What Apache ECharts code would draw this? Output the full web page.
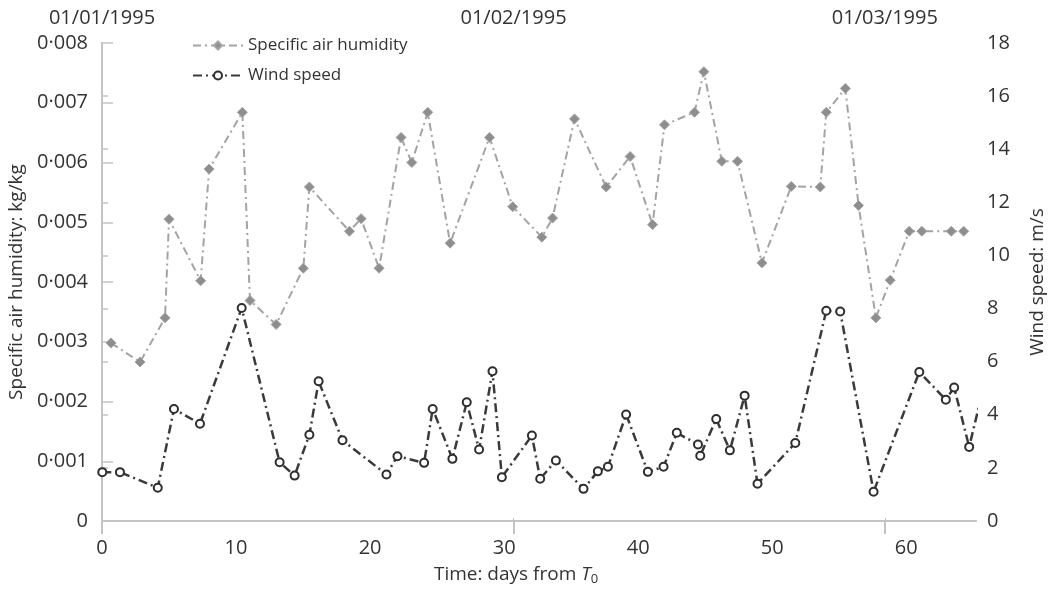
<!DOCTYPE html>
<html>
<head>
<meta charset="utf-8">
<script src="https://cdn.jsdelivr.net/npm/echarts@6/dist/echarts.min.js"></script>
<style>
  html, body { margin: 0; padding: 0; background: #fff; }
  #chart { width: 1048px; height: 589px; }
</style>
</head>
<body>
<div id="chart"></div>
<script>
// humidity, kg/kg (diamonds)
var humDays = [0.67, 2.84, 4.70, 5.0, 7.36, 7.99, 10.47, 11.04, 12.99, 15.02, 15.47, 18.46, 19.33, 20.67,
    22.31, 23.11, 24.30, 25.97, 28.91, 30.64, 32.81, 33.61, 35.25, 37.61, 39.40, 41.07, 41.96, 44.2,
    44.9, 46.24, 47.41, 49.23, 51.42, 53.58, 54.03, 55.45, 56.44, 57.73, 58.8, 60.22, 61.16, 63.36, 64.28];
var humVals = [0.00298, 0.00266, 0.00340, 0.00505, 0.00402, 0.00589, 0.00684, 0.00369, 0.00329, 0.00423,
    0.00559, 0.00485, 0.00506, 0.00423, 0.00642, 0.00600, 0.00684, 0.00465, 0.00642, 0.00526, 0.00475,
    0.00507, 0.00673, 0.00559, 0.00610, 0.00496, 0.00663, 0.00684, 0.00752, 0.00602, 0.00602, 0.00432,
    0.00560, 0.00559, 0.00684, 0.00724, 0.00528, 0.00340, 0.00403, 0.00485, 0.00485, 0.00485, 0.00485];

// wind speed, m/s (circles)
var windDays = [0.02, 1.34, 4.16, 5.37, 7.31, 10.42, 13.25, 14.37, 15.47, 16.16, 17.94, 21.22, 22.04, 24.03,
    24.67, 26.14, 27.21, 28.13, 29.13, 29.83, 32.07, 32.69, 33.86, 35.92, 36.99, 37.74, 39.10, 40.72,
    41.89, 42.88, 44.46, 44.63, 45.82, 46.84, 47.94, 48.90, 51.72, 54.03, 55.07, 57.56, 60.97, 62.95,
    63.57, 64.69, 65.7];
var windVals = [1.84, 1.84, 1.25, 4.22, 3.66, 8.02, 2.21, 1.71, 3.25, 5.26, 3.04, 1.75, 2.44, 2.19,
    4.22, 2.34, 4.47, 2.69, 5.64, 1.65, 3.22, 1.59, 2.28, 1.21, 1.87, 2.04, 4.01, 1.85,
    2.04, 3.32, 2.88, 2.46, 3.84, 2.66, 4.72, 1.40, 2.94, 7.92, 7.89, 1.10, 5.61, 4.57,
    5.03, 2.79, 4.9];

var xTicks = [0, 10, 20, 30, 40, 50, 60];
var dateDays = [0, 30.7, 58.4];
var dateLabels = ['01/01/1995', '01/02/1995', '01/03/1995'];

var fontFam = '"Open Sans", "Noto Sans", sans-serif';
var txtColor = '#333';
var axisCol = '#c4c4c4';

function pairs(xs, ys) {
    return xs.map(function (x, i) { return [x, ys[i]]; });
}

var chart = echarts.init(document.getElementById('chart'));

var option = {
    animation: false,
    backgroundColor: '#fff',
    textStyle: { fontFamily: fontFam, color: txtColor },
    grid: { left: 102, right: 72, top: 43, bottom: 68, outerBoundsMode: 'none', containLabel: false },
    legend: {
        orient: 'vertical',
        left: 186,
        top: 35,
        itemWidth: 50,
        itemHeight: 10,
        itemGap: 13,
        padding: [2, 12, 2, 6],
        backgroundColor: '#fff',
        textStyle: { fontSize: 17, color: txtColor, fontFamily: fontFam },
        data: ['Specific air humidity', 'Wind speed']
    },
    xAxis: [
        {
            type: 'value',
            position: 'bottom',
            min: 0,
            max: 65.2,
            interval: 10,
            name: '{n|Time: days from }{i|T}{s|0}',
            nameLocation: 'middle',
            nameGap: 43,
            nameTextStyle: {
                padding: [0, 46, 0, 0],
                rich: {
                    n: { fontSize: 19, color: txtColor, fontFamily: fontFam },
                    i: { fontSize: 19, color: txtColor, fontFamily: fontFam, fontStyle: 'italic' },
                    s: { fontSize: 13, color: txtColor, fontFamily: fontFam, padding: [9, 0, 0, 0] }
                }
            },
            axisLine: { show: true, lineStyle: { color: axisCol, width: 2 } },
            axisTick: { show: true, inside: true, length: 3, customValues: dateDays.slice(1), lineStyle: { color: axisCol } },
            axisLabel: { customValues: xTicks, fontSize: 20, color: txtColor, margin: 17 },
            splitLine: { show: false }
        },
        {
            type: 'value',
            position: 'top',
            min: 0,
            max: 65.2,
            interval: 10,
            axisLine: { show: true, lineStyle: { color: axisCol, width: 2 } },
            axisTick: { show: true, inside: true, length: 13, customValues: dateDays, lineStyle: { color: axisCol, width: 2 } },
            axisLabel: {
                customValues: dateDays,
                fontSize: 20,
                color: txtColor,
                margin: 15,
                formatter: function (v) {
                    var i = dateDays.indexOf(v);
                    return i >= 0 ? dateLabels[i] : '';
                }
            },
            splitLine: { show: false }
        }
    ],
    yAxis: [
        {
            type: 'value',
            position: 'left',
            min: 0,
            max: 0.008,
            interval: 0.001,
            name: 'Specific air humidity: kg/kg',
            nameLocation: 'middle',
            nameGap: 73,
            nameTextStyle: { fontSize: 19, color: txtColor },
            axisLine: { show: true, lineStyle: { color: axisCol, width: 2 } },
            axisTick: { show: true, inside: true, length: 11, lineStyle: { color: axisCol, width: 1.5 } },
            axisLabel: {
                fontSize: 20,
                color: txtColor,
                margin: 14,
                formatter: function (v) {
                    return v === 0 ? '0' : v.toFixed(3).replace('.', '·');
                }
            },
            splitLine: { show: false }
        },
        {
            type: 'value',
            position: 'right',
            min: 0,
            max: 18,
            interval: 2,
            name: 'Wind speed: m/s',
            nameLocation: 'middle',
            nameGap: 52,
            nameTextStyle: { fontSize: 19, color: txtColor },
            axisLine: { show: true, lineStyle: { color: axisCol, width: 2 } },
            axisTick: { show: true, inside: false, length: 6, lineStyle: { color: axisCol, width: 1.5 } },
            axisLabel: { fontSize: 20, color: txtColor, margin: 11 },
            splitLine: { show: false }
        }
    ],
    series: [
        {
            name: 'Specific air humidity',
            type: 'line',
            xAxisIndex: 0,
            yAxisIndex: 0,
            symbol: 'diamond',
            symbolSize: 10,
            clip: true,
            itemStyle: { color: '#8e8e8e', borderColor: '#a5a5a5', borderWidth: 1 },
            lineStyle: { color: '#a3a3a3', width: 2, type: [8, 4, 2, 4] },
            data: pairs(humDays, humVals),
            z: 2
        },
        {
            name: 'Wind speed',
            type: 'line',
            xAxisIndex: 0,
            yAxisIndex: 1,
            symbol: 'circle',
            symbolSize: 8,
            clip: true,
            itemStyle: { color: '#fff', borderColor: '#2e2e2e', borderWidth: 2 },
            lineStyle: { color: '#3a3a3a', width: 2.5, type: [9, 4, 2, 4] },
            data: pairs(windDays, windVals),
            z: 3
        }
    ]
};

chart.setOption(option);
</script>
</body>
</html>
